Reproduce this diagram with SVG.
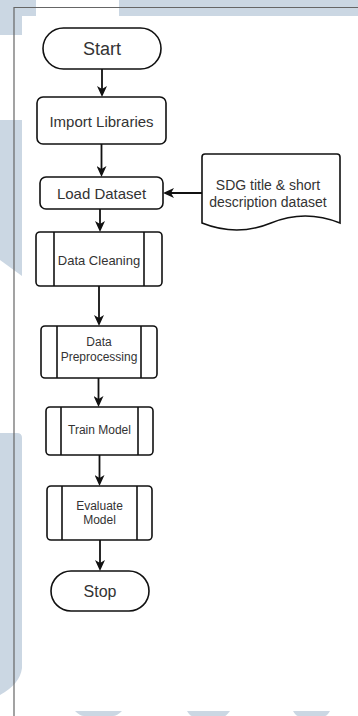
<svg xmlns="http://www.w3.org/2000/svg" width="358" height="716" viewBox="0 0 358 716">
  <style>
    .wm { fill: #cbd7e3; }
    .frame { stroke: #666; stroke-width: 1.2; fill: none; }
    .box { fill: #fff; stroke: #111; stroke-width: 1.6; }
    .bar { stroke: #111; stroke-width: 1.6; }
    .edge { stroke: #111; stroke-width: 1.8; fill: none; }
    text { font-family: "Liberation Sans", Arial, sans-serif; fill: #333; text-anchor: middle; dominant-baseline: central; }
  </style>
  <defs>
    <marker id="arrow" markerUnits="userSpaceOnUse" viewBox="0 0 11 10" markerWidth="11" markerHeight="10" refX="8" refY="5" orient="auto">
      <path d="M0,0 L11,5 L0,10 L3,5 Z" fill="#111"/>
    </marker>
  </defs>

  <rect width="358" height="716" fill="#fff"/>

  <!-- background watermark pieces in the margins -->
  <g id="watermark">
    <path class="wm" d="M0,0 H36 V16 H22 V35 H0 Z"/>
    <rect class="wm" x="119" y="0" width="239" height="16"/>
    <path class="wm" d="M0,120 H22 V276 L0,260 Z"/>
    <path class="wm" d="M0,433 H17 Q22,433 22,438 V668 Q20,684 0,695 Z"/>
    <path class="wm" d="M75,711 H122 Q117,716 113,716 H84 Q80,716 75,711 Z"/>
    <path class="wm" d="M187,711 H230 Q226,716 225,716 H192 Q190,716 187,711 Z"/>
    <path class="wm" d="M293,711 H330 Q327,716 325,716 H298 Q296,716 293,711 Z"/>
  </g>

  <!-- page frame -->
  <path class="frame" d="M14,716 V7.5 H358"/>

  <!-- connectors -->
  <g id="connectors">
    <line class="edge" x1="102" y1="69" x2="102" y2="94" marker-end="url(#arrow)"/>
    <line class="edge" x1="101.5" y1="144" x2="101.5" y2="174" marker-end="url(#arrow)"/>
    <line class="edge" x1="202" y1="193" x2="166" y2="193" marker-end="url(#arrow)"/>
    <line class="edge" x1="100" y1="209" x2="100" y2="229" marker-end="url(#arrow)"/>
    <line class="edge" x1="99" y1="286" x2="99" y2="323" marker-end="url(#arrow)"/>
    <line class="edge" x1="98.5" y1="378" x2="98.5" y2="404" marker-end="url(#arrow)"/>
    <line class="edge" x1="99.5" y1="455" x2="99.5" y2="483" marker-end="url(#arrow)"/>
    <line class="edge" x1="100" y1="540" x2="100" y2="568" marker-end="url(#arrow)"/>
  </g>

  <g id="start">
    <rect class="box" x="43" y="28" width="118" height="41" rx="20.5"/>
    <text x="102" y="48.5" font-size="18">Start</text>
  </g>

  <g id="import-libraries">
    <rect class="box" x="37" y="97" width="129" height="47" rx="6"/>
    <text x="101.5" y="121" font-size="15">Import Libraries</text>
  </g>

  <g id="load-dataset">
    <rect class="box" x="40" y="177" width="123" height="32" rx="6"/>
    <text x="101.5" y="193" font-size="15">Load Dataset</text>
  </g>

  <g id="dataset-document">
    <path class="box" d="M202,223 V157 Q202,154 205,154 H337 Q340,154 340,157 V223 Q305,209 271,223 Q237,237 202,223 Z"/>
    <text x="268" y="185" font-size="14">SDG title &amp; short</text>
    <text x="268" y="202" font-size="14">description dataset</text>
  </g>

  <g id="data-cleaning">
    <rect class="box" x="36" y="232" width="126" height="54" rx="4"/>
    <line class="bar" x1="54" y1="232" x2="54" y2="286"/>
    <line class="bar" x1="144" y1="232" x2="144" y2="286"/>
    <text x="99" y="260" font-size="13">Data Cleaning</text>
  </g>

  <g id="data-preprocessing">
    <rect class="box" x="41" y="326" width="116" height="52" rx="4"/>
    <line class="bar" x1="57" y1="326" x2="57" y2="378"/>
    <line class="bar" x1="141" y1="326" x2="141" y2="378"/>
    <text x="99" y="342" font-size="12">Data</text>
    <text x="99" y="357" font-size="12">Preprocessing</text>
  </g>

  <g id="train-model">
    <rect class="box" x="46" y="407" width="107" height="48" rx="4"/>
    <line class="bar" x1="61" y1="407" x2="61" y2="455"/>
    <line class="bar" x1="138" y1="407" x2="138" y2="455"/>
    <text x="99.5" y="430" font-size="12">Train Model</text>
  </g>

  <g id="evaluate-model">
    <rect class="box" x="47" y="486" width="105" height="54" rx="4"/>
    <line class="bar" x1="62" y1="486" x2="62" y2="540"/>
    <line class="bar" x1="137" y1="486" x2="137" y2="540"/>
    <text x="99.5" y="506" font-size="12">Evaluate</text>
    <text x="99.5" y="520" font-size="12">Model</text>
  </g>

  <g id="stop">
    <rect class="box" x="51" y="571" width="98" height="40" rx="20"/>
    <text x="100" y="591.5" font-size="16">Stop</text>
  </g>
</svg>
